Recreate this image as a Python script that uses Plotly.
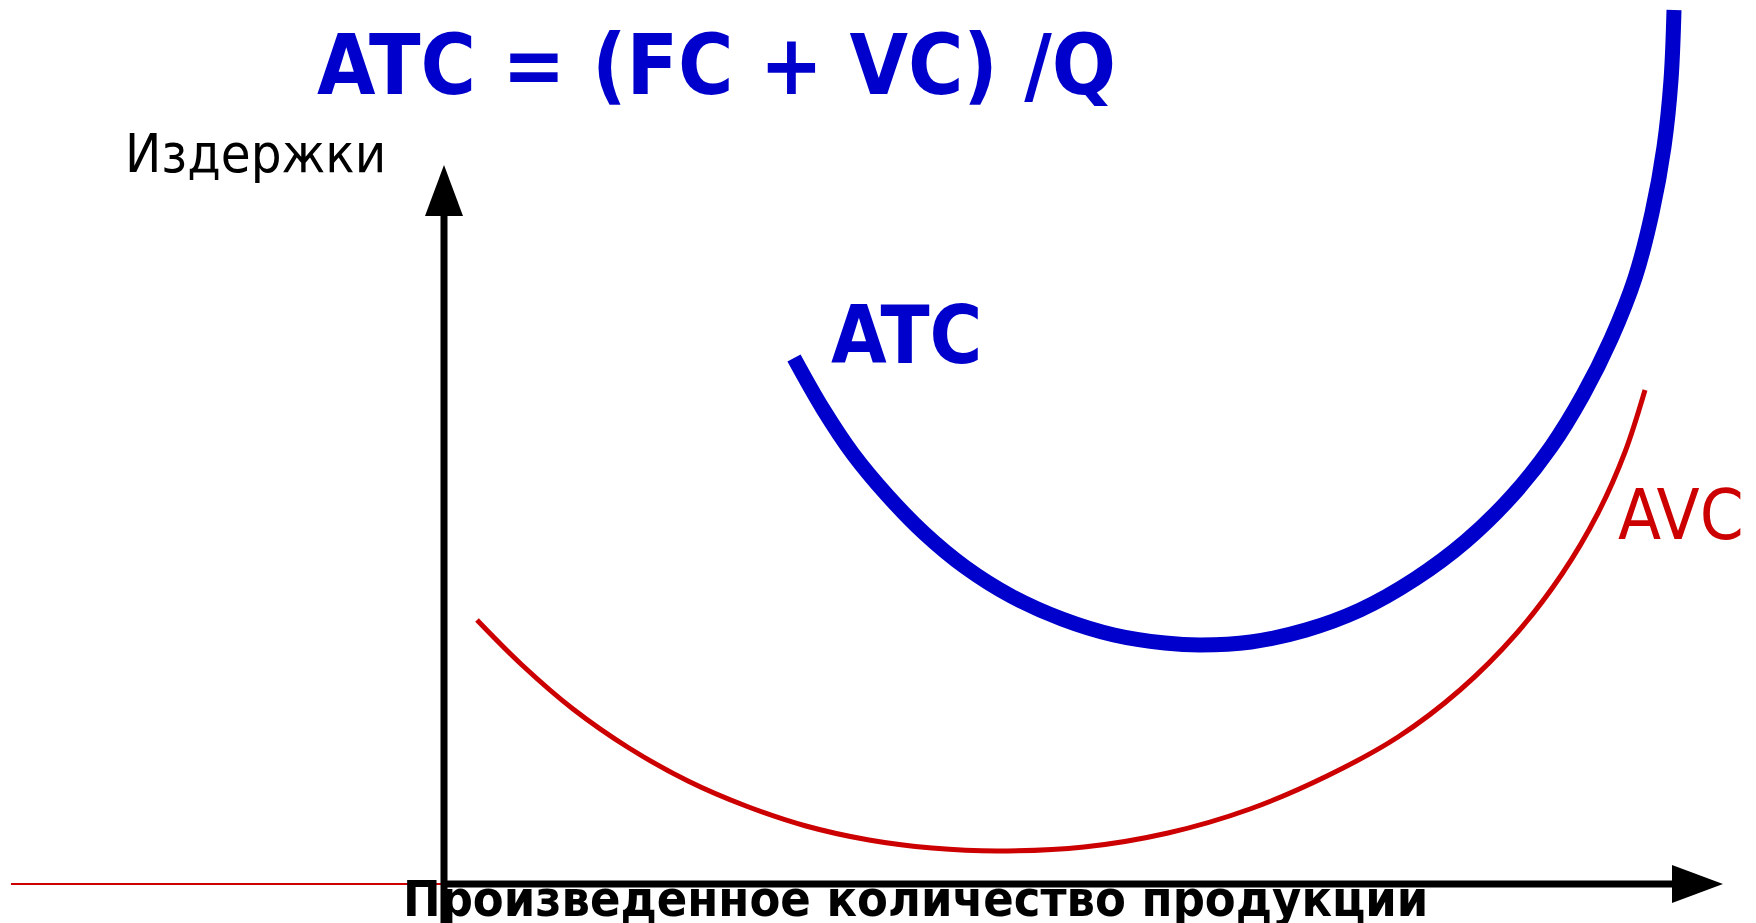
import plotly.graph_objects as go

# ---- data (quantity Q, cost C) ----
atc_q = [350, 379, 409, 443, 480, 521, 567, 618, 670, 721, 756,
         807, 862, 916, 971, 1022, 1068, 1107, 1139, 1167, 1191, 1208, 1220, 1227, 1230]
atc_c = [526, 475, 430, 389, 351, 317, 288, 265, 249, 241, 239,
         242, 254, 274, 305, 343, 388, 437, 489, 545, 606, 671, 737, 804, 874]

avc_q = [33, 78, 129, 185, 244, 302, 362, 425, 488, 553,
         640, 724, 806, 883, 954, 1016, 1072, 1118, 1154, 1181, 1201]
avc_c = [264, 219, 175, 136, 103, 78, 58, 44, 36, 33,
         37, 51, 75, 108, 147, 194, 250, 310, 371, 432, 494]

# thin red line left of the origin (at zero cost)
base_q = [-433, 0]
base_c = [0, 0]

title_text = "ATC = (FC + VC) /Q"
y_title = "Издержки"
x_title = "Произведенное количество продукции"
atc_label = "ATC"
avc_label = "AVC"

BLUE = "#0000CC"
RED = "#CC0000"
FONT = "DejaVu Sans Condensed, DejaVu Sans, sans-serif"

# axis geometry (in data units)
X_MIN, X_MAX = -436, 1320
Y_MIN, Y_MAX = -47, 876
X_AXIS_END, X_TIP = 1228, 1279
Y_AXIS_END, Y_TIP = 668, 719
HEAD_HALF = 19

fig = go.Figure()

fig.add_trace(go.Scatter(x=base_q, y=base_c, mode="lines",
                         line=dict(color=RED, width=2), hoverinfo="skip"))
fig.add_trace(go.Scatter(x=avc_q, y=avc_c, mode="lines",
                         line=dict(color=RED, width=5, shape="spline", smoothing=1.0),
                         hoverinfo="skip"))
fig.add_trace(go.Scatter(x=atc_q, y=atc_c, mode="lines",
                         line=dict(color=BLUE, width=15, shape="spline", smoothing=1.0),
                         hoverinfo="skip"))

# axes with arrowheads
fig.add_shape(type="line", x0=0, y0=Y_MIN, x1=0, y1=Y_AXIS_END + 2,
              line=dict(color="black", width=7))
fig.add_shape(type="line", x0=0, y0=0, x1=X_AXIS_END + 2, y1=0,
              line=dict(color="black", width=7))
fig.add_shape(type="path",
              path=f"M {-HEAD_HALF},{Y_AXIS_END} L {HEAD_HALF},{Y_AXIS_END} L 0,{Y_TIP} Z",
              fillcolor="black", line=dict(width=0))
fig.add_shape(type="path",
              path=f"M {X_AXIS_END},{-HEAD_HALF} L {X_AXIS_END},{HEAD_HALF} L {X_TIP},0 Z",
              fillcolor="black", line=dict(width=0))

# texts
fig.add_annotation(x=272, y=870, text=title_text, showarrow=False,
                   xanchor="center", yanchor="top",
                   font=dict(family=FONT, size=84, color=BLUE, weight="bold"))
fig.add_annotation(x=-189, y=764, text=y_title, showarrow=False,
                   xanchor="center", yanchor="top",
                   font=dict(family=FONT, size=54, color="black"))
fig.add_annotation(x=471, y=16, text=x_title, showarrow=False,
                   xanchor="center", yanchor="top",
                   font=dict(family=FONT, size=50, color="black", weight="bold"))
fig.add_annotation(x=462, y=597, text=atc_label, showarrow=False,
                   xanchor="center", yanchor="top",
                   font=dict(family=FONT, size=80, color=BLUE, weight="bold"))
fig.add_annotation(x=1237, y=412, text=avc_label, showarrow=False,
                   xanchor="center", yanchor="top",
                   font=dict(family=FONT, size=70, color=RED))

fig.update_layout(
    width=1756, height=923,
    margin=dict(l=0, r=0, t=0, b=0),
    paper_bgcolor="white", plot_bgcolor="white",
    showlegend=False, hovermode=False,
    xaxis=dict(range=[X_MIN, X_MAX], visible=False, fixedrange=True),
    yaxis=dict(range=[Y_MIN, Y_MAX], visible=False, fixedrange=True),
)

fig.write_html("out.html")
